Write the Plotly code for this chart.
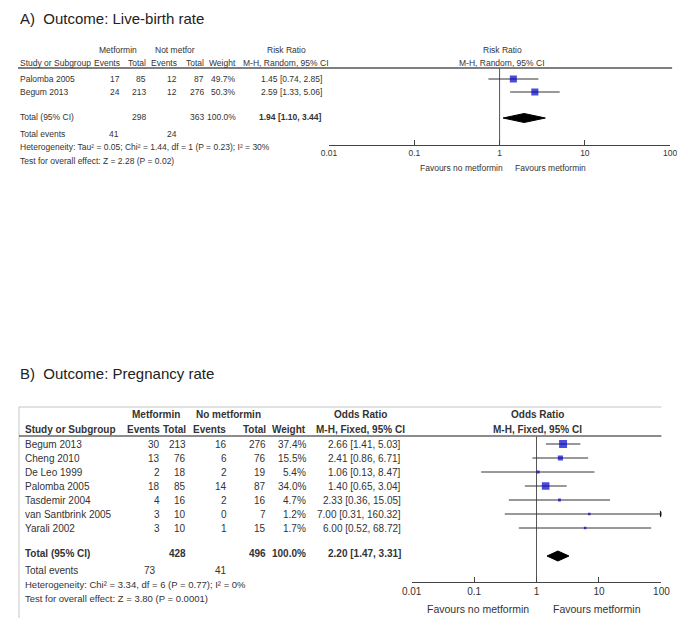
import plotly.graph_objects as go

# the page body keeps its default 8px margin, so the figure starts 8px in
W, H = 685, 618
OFF = 8
FW, FH = W - OFF, H - OFF

# panel A - live-birth rate (risk ratio, random effects)
a_studies = ["Palomba 2005", "Begum 2013"]
a_met_events = [17, 24]
a_met_total = [85, 213]
a_ctl_events = [12, 12]
a_ctl_total = [87, 276]
a_weight = [49.7, 50.3]
a_est = [1.45, 2.59]
a_lo = [0.74, 1.33]
a_hi = [2.85, 5.06]
a_total = [298, 363]
a_total_events = [41, 24]
a_pooled = [1.94, 1.10, 3.44]
a_het = "Heterogeneity: Tau² = 0.05; Chi² = 1.44, df = 1 (P = 0.23); I² = 30%"
a_test = "Test for overall effect: Z = 2.28 (P = 0.02)"

# panel B - pregnancy rate (odds ratio, fixed effect)
b_studies = ["Begum 2013", "Cheng 2010", "De Leo 1999", "Palomba 2005",
             "Tasdemir 2004", "van Santbrink 2005", "Yarali 2002"]
b_met_events = [30, 13, 2, 18, 4, 3, 3]
b_met_total = [213, 76, 18, 85, 16, 10, 10]
b_ctl_events = [16, 6, 2, 14, 2, 0, 1]
b_ctl_total = [276, 76, 19, 87, 16, 7, 15]
b_weight = [37.4, 15.5, 5.4, 34.0, 4.7, 1.2, 1.7]
b_est = [2.66, 2.41, 1.06, 1.40, 2.33, 7.00, 6.00]
b_lo = [1.41, 0.86, 0.13, 0.65, 0.36, 0.31, 0.52]
b_hi = [5.03, 6.71, 8.47, 3.04, 15.05, 160.32, 68.72]
b_total = [428, 496]
b_total_events = [73, 41]
b_pooled = [2.20, 1.47, 3.31]
b_het = "Heterogeneity: Chi² = 3.34, df = 6 (P = 0.77); I² = 0%"
b_test = "Test for overall effect: Z = 3.80 (P = 0.0001)"

tick_vals = [0.01, 0.1, 1, 10, 100]
tick_text = ["0.01", "0.1", "1", "10", "100"]

SANS = "Liberation Sans, Arial, sans-serif"
TXT = "#333"


def px(x):
    return (x - OFF) / FW


def py(y):
    return 1 - (y - OFF) / FH


ann = []
shapes = []


def text(x, y, s, size, anchor="left", bold=False, color=TXT):
    if bold:
        s = "<b>" + s + "</b>"
    ann.append(dict(x=px(x), y=py(y), xref="paper", yref="paper", text=s,
                    showarrow=False, xanchor=anchor, yanchor="middle",
                    borderpad=0, font=dict(size=size, family=SANS, color=color)))


def hline(y, x0, x1, color, width):
    shapes.append(dict(type="line", xref="paper", yref="paper",
                       x0=px(x0), x1=px(x1), y0=py(y), y1=py(y),
                       line=dict(color=color, width=width)))


def vline(x, y0, y1, color, width):
    shapes.append(dict(type="line", xref="paper", yref="paper",
                       x0=px(x), x1=px(x), y0=py(y0), y1=py(y1),
                       line=dict(color=color, width=width)))


def ci(v):
    return "%.2f [%.2f, %.2f]" % (v[0], v[1], v[2])


fig = go.Figure()


def forest(xaxis, rows, est, lo, hi, weight, scale, pooled, y_pool, dh, y_top, y_axis):
    # line of no effect
    fig.add_trace(go.Scatter(x=[1, 1], y=[y_top, y_axis], mode="lines",
                             line=dict(color="#555", width=1), xaxis=xaxis, yaxis="y",
                             hoverinfo="skip"))
    xs, ys = [], []
    for r, l, h in zip(rows, lo, hi):
        xs += [l, min(h, 100), None]
        ys += [r, r, None]
    fig.add_trace(go.Scatter(x=xs, y=ys, mode="lines", line=dict(color="#333", width=1),
                             xaxis=xaxis, yaxis="y", hoverinfo="skip"))
    sizes = [max(2.5, scale * w ** 0.5) for w in weight]
    fig.add_trace(go.Scatter(x=est, y=rows, mode="markers",
                             marker=dict(symbol="square", size=sizes, color="#0000cc",
                                         line=dict(width=0)),
                             xaxis=xaxis, yaxis="y"))
    arr = [(100, r) for r, h in zip(rows, hi) if h > 100]
    if arr:
        fig.add_trace(go.Scatter(x=[a[0] for a in arr], y=[a[1] for a in arr], mode="markers",
                                 marker=dict(symbol="triangle-right", size=6, color="#111"),
                                 xaxis=xaxis, yaxis="y"))
    p, pl, ph = pooled
    fig.add_trace(go.Scatter(x=[pl, p, ph, p, pl], y=[y_pool, y_pool - dh, y_pool, y_pool + dh, y_pool],
                             mode="lines", fill="toself", fillcolor="black",
                             line=dict(color="black", width=1), xaxis=xaxis, yaxis="y"))


# ---------------- panel A ----------------
text(9, 18, "A)  Outcome: Live-birth rate", 15, color="#222")
A = 8.5
text(111, 50, "Metformin", A, anchor="center")
text(170, 50, "Not metfor", A, anchor="center")
text(284, 50, "Risk Ratio", A, anchor="center")
text(506, 50, "Risk Ratio", A, anchor="center")
a_right = [114, 141, 173, 200, 233, 322]
text(9, 63, "Study or Subgroup", A)
for x, s in zip(a_right[:5], ["Events", "Total", "Events", "Total", "Weight"]):
    text(x, 63, s, A, anchor="right")
text(284, 63, "M-H, Random, 95% CI", A, anchor="center")
text(506, 63, "M-H, Random, 95% CI", A, anchor="center")
hline(68, 8, 681, "#555", 1.5)

a_rows = [79 + 13 * i for i in range(len(a_studies))]
for i, r in enumerate(a_rows):
    text(9, r, a_studies[i], A)
    vals = [a_met_events[i], a_met_total[i], a_ctl_events[i], a_ctl_total[i],
            "%.1f%%" % a_weight[i], ci([a_est[i], a_lo[i], a_hi[i]])]
    for x, v in zip(a_right, vals):
        text(x, r, str(v), A, anchor="right")
text(9, 117, "Total (95% CI)", A)
text(a_right[1], 117, str(a_total[0]), A, anchor="right")
text(a_right[3], 117, str(a_total[1]), A, anchor="right")
text(a_right[4], 117, "100.0%", A, anchor="right")
text(a_right[5], 117, ci(a_pooled), A, anchor="right", bold=True)
text(9, 134, "Total events", A)
text(a_right[0] - 1, 134, str(a_total_events[0]), A, anchor="right")
text(a_right[2], 134, str(a_total_events[1]), A, anchor="right")
text(9, 147, a_het, A)
text(9, 161, a_test, A)

forest("x", a_rows, a_est, a_lo, a_hi, a_weight, 1.0, a_pooled, 118, 4.5, 68, 145)
text(508, 168, "Favours no metformin", A, anchor="right")
text(518, 168, "Favours metformin", A)

# ---------------- panel B ----------------
text(9, 373, "B)  Outcome: Pregnancy rate", 15, color="#222")
hline(407, 9, 670, "#c4c4c4", 1)
vline(9, 407, 618, "#c4c4c4", 1)
B = 10
text(150, 414, "Metformin", B, anchor="center", bold=True)
text(225, 414, "No metformin", B, anchor="center", bold=True)
text(360, 414, "Odds Ratio", B, anchor="center", bold=True)
text(542, 414, "Odds Ratio", B, anchor="center", bold=True)
b_right = [155, 182, 224, 264, 305, 403]
text(14, 429, "Study or Subgroup", B, bold=True)
text(b_right[0], 429, "Events", B, anchor="right", bold=True)
text(b_right[1], 429, "Total", B, anchor="right", bold=True)
text(187, 429, "Events", B, bold=True)
text(b_right[3], 429, "Total", B, anchor="right", bold=True)
text(b_right[4], 429, "Weight", B, anchor="right", bold=True)
text(360, 429, "M-H, Fixed, 95% CI", B, anchor="center", bold=True)
text(542, 429, "M-H, Fixed, 95% CI", B, anchor="center", bold=True)
hline(436, 9, 670, "#666", 1.5)

b_rows = [444 + 14 * i for i in range(len(b_studies))]
for i, r in enumerate(b_rows):
    text(14, r, b_studies[i], B)
    vals = [b_met_events[i], b_met_total[i], b_ctl_events[i], b_ctl_total[i],
            "%.1f%%" % b_weight[i], ci([b_est[i], b_lo[i], b_hi[i]])]
    for x, v in zip(b_right, vals):
        text(x, r, str(v), B, anchor="right")
text(14, 553, "Total (95% CI)", B, bold=True)
text(b_right[1], 553, str(b_total[0]), B, anchor="right", bold=True)
text(b_right[3], 553, str(b_total[1]), B, anchor="right", bold=True)
text(b_right[4], 553, "100.0%", B, anchor="right", bold=True)
text(b_right[5], 553, ci(b_pooled), B, anchor="right", bold=True)
text(14, 570, "Total events", B)
text(b_right[0] - 4, 570, str(b_total_events[0]), B, anchor="right")
text(b_right[2], 570, str(b_total_events[1]), B, anchor="right")
text(14, 584, b_het, 9.5)
text(14, 598, b_test, 9.5)

forest("x2", b_rows, b_est, b_lo, b_hi, b_weight, 1.3, b_pooled, 556, 5, 436, 582)
text(535, 609, "Favours no metformin", 10.5, anchor="right")
text(557, 609, "Favours metformin", 10.5)

axis_common = dict(type="log", range=[-2, 2], showgrid=False, zeroline=False,
                   showline=True, linecolor="#444", linewidth=1, ticks="inside",
                   ticklen=5, tickcolor="#444", tickvals=tick_vals, ticktext=tick_text,
                   anchor="free")
fig.update_layout(
    width=FW, height=FH, margin=dict(l=0, r=0, t=0, b=0),
    paper_bgcolor="white", plot_bgcolor="rgba(0,0,0,0)", showlegend=False,
    xaxis=dict(domain=[px(328), px(679)], position=py(145),
               tickfont=dict(family=SANS, size=8.5, color=TXT), **axis_common),
    xaxis2=dict(domain=[px(413), px(670)], position=py(582),
                tickfont=dict(family=SANS, size=10, color=TXT), **axis_common),
    yaxis=dict(domain=[0, 1], range=[H, OFF], visible=False),
    annotations=ann, shapes=shapes,
)

fig.write_html("out.html")
